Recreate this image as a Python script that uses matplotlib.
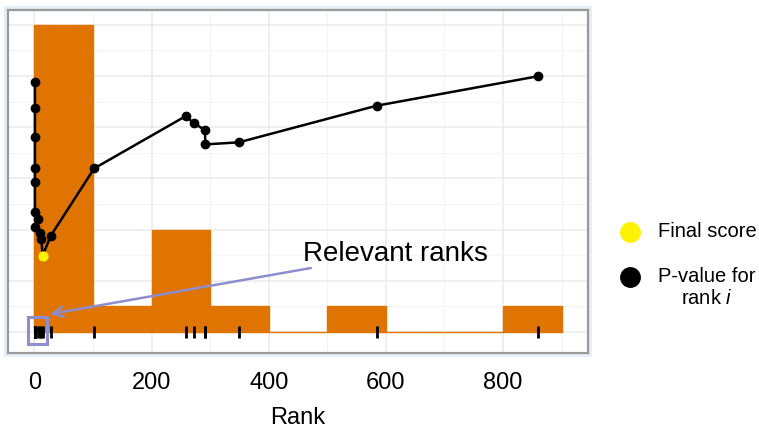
import numpy as np
import matplotlib
matplotlib.use("Agg")
import matplotlib.pyplot as plt
from matplotlib.lines import Line2D
from matplotlib.patches import Rectangle

plt.rcParams['font.family'] = ['Liberation Sans', 'DejaVu Sans']
plt.rcParams['mathtext.fontset'] = 'custom'
plt.rcParams['mathtext.rm'] = 'Liberation Sans'
plt.rcParams['mathtext.it'] = 'Liberation Sans:italic'

# rank of each relevant item, in path order, and its p-value on the count scale
ranks = [1, 1, 1, 1, 1, 1, 7, 1, 9, 12, 14, 28, 102, 258, 273, 291, 292, 349, 584, 859]
pvals = [9.78, 8.74, 7.61, 6.41, 5.85, 4.70, 4.41, 4.09, 3.87, 3.63, 2.98, 3.76,
         6.39, 8.43, 8.15, 7.89, 7.33, 7.41, 8.84, 9.99]
final_idx = 10          # point used as the final score
bin_edges = [0, 100, 200, 300, 400, 500, 600, 700, 800, 900]
x_ticks = [0, 200, 400, 600, 800]

ORANGE = '#E07400'
YELLOW = '#FFF200'
PURPLE = '#8E8ECF'
W, H = 759, 431


def fx(px):
    return px / W


def fy(py):
    return 1 - py / H


fig = plt.figure(figsize=(W / 100, H / 100), dpi=100)
fig.patch.set_facecolor('white')

# pale frame around the panel
fig.add_artist(Rectangle((fx(4), fy(358)), fx(592) - fx(4), fy(7) - fy(358),
                         transform=fig.transFigure, facecolor='#e6eef7',
                         edgecolor='none', zorder=0))

ax = fig.add_axes([fx(8), fy(354), fx(588) - fx(8), fy(11) - fy(354)])
ax.set_facecolor('white')
ax.set_xlim(-45, 945)
ax.set_ylim(-0.82, 12.58)

ax.set_xticks(x_ticks)
ax.set_xticks([100, 300, 500, 700, 900], minor=True)
ax.set_yticks(np.arange(0, 13, 2))
ax.set_yticks(np.arange(1, 13, 2), minor=True)
ax.set_yticklabels([])
ax.tick_params(which='both', length=0)
ax.tick_params(axis='x', labelsize=17, pad=13)
ax.grid(which='major', color='#ebebeb', lw=1.1)
ax.grid(which='minor', color='#f3f3f3', lw=0.8)
ax.set_axisbelow(True)
for s in ax.spines.values():
    s.set_color('#9a9a9a')
    s.set_linewidth(1.6)

# histogram of the ranks
ax.hist(ranks, bins=bin_edges, color=ORANGE, edgecolor=ORANGE, linewidth=1, zorder=1)

# rug of ranks along zero
ax.plot(ranks, [0] * len(ranks), ls='none', marker='|', ms=9, mew=2,
        color='black', zorder=3)

# p-value path
ax.plot(ranks, pvals, '-o', color='black', lw=1.8, ms=6, zorder=4)
ax.plot(ranks[final_idx], pvals[final_idx], 'o', color=YELLOW, ms=6.5, zorder=5)

ax.set_xlabel('Rank', fontsize=17, labelpad=9)

# highlight of the relevant ranks
ax.add_patch(Rectangle((-11, -0.47), 32.5, 1.06, fill=False, edgecolor=PURPLE,
                       lw=2.2, zorder=6))
ax.annotate('', xy=(27, 0.70), xytext=(472, 2.5),
            arrowprops=dict(arrowstyle='->', color=PURPLE, lw=1.8,
                            mutation_scale=18, shrinkA=0, shrinkB=0), zorder=6)
ax.text(458, 3.09, 'Relevant ranks', fontsize=20, va='center', ha='left', zorder=6)

# legend drawn beside the panel
fig.add_artist(Line2D([fx(630)], [fy(233)], transform=fig.transFigure, marker='o',
                      ms=14, color=YELLOW, ls='none'))
fig.add_artist(Line2D([fx(630)], [fy(278)], transform=fig.transFigure, marker='o',
                      ms=14, color='black', ls='none'))
fig.text(fx(658), fy(232), 'Final score', fontsize=14.5, va='center', ha='left')
fig.text(fx(707), fy(276), 'P-value for', fontsize=14.5, va='center', ha='center')
fig.text(fx(707), fy(298), 'rank $i$', fontsize=14.5, va='center', ha='center')

fig.savefig('out.png', dpi=100)
